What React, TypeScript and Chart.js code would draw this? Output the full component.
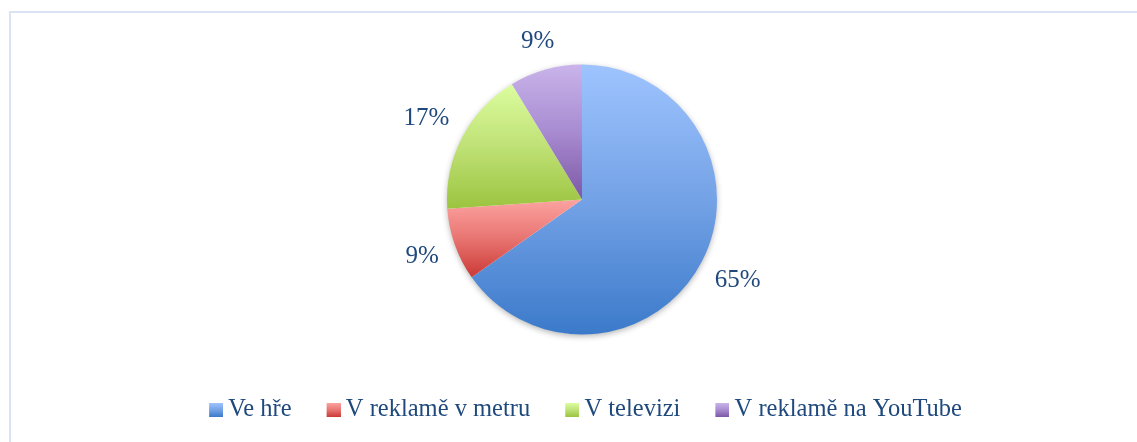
import React, { useEffect, useRef } from 'react';
import { Chart, registerables } from 'chart.js';

Chart.register(...registerables);

// ---- data ----
const categories = ['Ve hře', 'V reklamě v metru', 'V televizi', 'V reklamě na YouTube'];
const responses = [15, 2, 4, 2];

// ---- styles ----
const sliceStops: string[][] = [
  ['#9ec4fe', '#74a2e6', '#3b7aca'],
  ['#fca3a0', '#e87572', '#cb3935'],
  ['#dcfd9e', '#bfe176', '#9cc43f'],
  ['#c9b4ea', '#a88bd1', '#7c58a5'],
];
const FONT = "'Liberation Serif', 'Times New Roman', serif";
const TEXT_COLOR = '#1f497d';
const PIE_RADIUS = 135;
const PIE_CENTER_Y = 199.5;
const LABEL_FONT_SIZE = 25;
const LABEL_GAP = 16;
const LEGEND_FONT_SIZE = 24.5;
const LEGEND_PAD = 28;
const LEGEND_BOX = 14;
const LEGEND_TEXT_Y = 410;
const CANVAS_H = 442;

const legendTop = LEGEND_TEXT_Y - LEGEND_FONT_SIZE / 2 - LEGEND_PAD;
const legendHeight = LEGEND_FONT_SIZE + LEGEND_PAD + 10;
const padBottom = CANVAS_H - (legendTop + legendHeight);
const padTop = 2 * PIE_CENTER_Y - legendTop;

function makeGradient(ctx: CanvasRenderingContext2D, top: number, bottom: number, stops: string[]) {
  const g = ctx.createLinearGradient(0, top, 0, bottom);
  stops.forEach((c, k) => g.addColorStop(k / (stops.length - 1), c));
  return g;
}

function inSweep(t: number, a0: number, a1: number) {
  for (let k = -2; k <= 2; k++) {
    const a = t + k * 2 * Math.PI;
    if (a >= a0 - 1e-6 && a <= a1 + 1e-6) return true;
  }
  return false;
}

function sliceFill(c: any) {
  const chart = c.chart;
  const i = c.dataIndex;
  const stops = sliceStops[(typeof i === 'number' ? i : 0) % sliceStops.length];
  const area = chart.chartArea;
  if (!area || typeof i !== 'number' || !chart.ctx) return stops[1];
  const values = chart.data.datasets[0].data as number[];
  const total = values.reduce((s, v) => s + v, 0);
  let a0 = -Math.PI / 2;
  for (let k = 0; k < i; k++) a0 += (values[k] / total) * 2 * Math.PI;
  const a1 = a0 + (values[i] / total) * 2 * Math.PI;
  const cy = (area.top + area.bottom) / 2;
  const r = PIE_RADIUS;
  const ys = [cy, cy + r * Math.sin(a0), cy + r * Math.sin(a1)];
  if (inSweep(-Math.PI / 2, a0, a1)) ys.push(cy - r);
  if (inSweep(Math.PI / 2, a0, a1)) ys.push(cy + r);
  return makeGradient(chart.ctx, Math.min(...ys), Math.max(...ys), stops);
}

const shadowPlugin = {
  id: 'pieShadow',
  beforeDatasetsDraw(chart: any) {
    const arc = chart.getDatasetMeta(0).data[0];
    if (!arc) return;
    const { x, y, outerRadius } = arc.getProps(['x', 'y', 'outerRadius'], true);
    const ctx = chart.ctx as CanvasRenderingContext2D;
    ctx.save();
    ctx.shadowColor = 'rgba(0,0,0,0.32)';
    ctx.shadowBlur = 6;
    ctx.shadowOffsetY = 2;
    ctx.fillStyle = '#ffffff';
    ctx.beginPath();
    ctx.arc(x, y, outerRadius - 0.5, 0, 2 * Math.PI);
    ctx.fill();
    ctx.restore();
  },
};

const percentLabelPlugin = {
  id: 'percentLabels',
  afterDatasetsDraw(chart: any) {
    const meta = chart.getDatasetMeta(0);
    const values = chart.data.datasets[0].data as number[];
    const total = values.reduce((s, v) => s + v, 0);
    const ctx = chart.ctx as CanvasRenderingContext2D;
    ctx.save();
    ctx.font = `${LABEL_FONT_SIZE}px ${FONT}`;
    ctx.fillStyle = TEXT_COLOR;
    ctx.textAlign = 'center';
    ctx.textBaseline = 'middle';
    meta.data.forEach((arc: any, i: number) => {
      const { x, y, startAngle, endAngle, outerRadius } = arc.getProps(
        ['x', 'y', 'startAngle', 'endAngle', 'outerRadius'],
        true
      );
      const mid = (startAngle + endAngle) / 2;
      const text = Math.round((values[i] / total) * 100) + '%';
      const w = ctx.measureText(text).width;
      const h = LABEL_FONT_SIZE * 0.7;
      const dx = Math.cos(mid);
      const dy = Math.sin(mid);
      const t = outerRadius + LABEL_GAP + (Math.abs(dx) * w) / 2 + (Math.abs(dy) * h) / 2;
      ctx.fillText(text, x + dx * t, y + dy * t);
    });
    ctx.restore();
  },
};

export default function App() {
  const canvasRef = useRef<HTMLCanvasElement>(null);

  useEffect(() => {
    if (!canvasRef.current) return;
    // swatch image: square sits in the right half so the gap to the text is small
    const swatches = sliceStops.map((stops) => {
      const c = document.createElement('canvas');
      c.width = LEGEND_BOX * 2;
      c.height = LEGEND_BOX;
      const x = c.getContext('2d') as CanvasRenderingContext2D;
      x.fillStyle = makeGradient(x, 0, LEGEND_BOX, stops);
      x.fillRect(LEGEND_BOX, 0, LEGEND_BOX, LEGEND_BOX);
      return c;
    });

    const chart = new Chart(canvasRef.current, {
      type: 'pie',
      data: {
        labels: categories,
        datasets: [
          {
            data: responses,
            backgroundColor: sliceFill as any,
            borderWidth: 0,
            radius: PIE_RADIUS,
          } as any,
        ],
      },
      options: {
        animation: false,
        responsive: true,
        maintainAspectRatio: false,
        events: [],
        layout: { padding: { top: padTop, bottom: padBottom, left: 0, right: 0 } },
        plugins: {
          tooltip: { enabled: false },
          legend: {
            position: 'bottom',
            labels: {
              font: { family: FONT, size: LEGEND_FONT_SIZE },
              color: TEXT_COLOR,
              usePointStyle: true,
              boxWidth: LEGEND_BOX,
              boxHeight: LEGEND_BOX,
              padding: LEGEND_PAD,
              generateLabels: (ch: any) => {
                const base = (Chart as any).overrides.doughnut.plugins.legend.labels.generateLabels(ch);
                return base.map((item: any, k: number) => ({
                  ...item,
                  pointStyle: swatches[k % swatches.length],
                  fillStyle: sliceStops[k % sliceStops.length][1],
                  strokeStyle: 'rgba(0,0,0,0)',
                  lineWidth: 0,
                }));
              },
            },
          },
        },
      } as any,
      plugins: [shadowPlugin, percentLabelPlugin],
    });
    return () => chart.destroy();
  }, []);

  return (
    <div
      style={{
        position: 'fixed',
        left: 0,
        top: 0,
        width: 1137,
        height: 442,
        overflow: 'hidden',
        background: '#ffffff',
      }}
    >
      <div
        style={{
          position: 'absolute',
          left: 9,
          top: 11,
          width: 1200,
          height: 500,
          border: '2px solid #dae3f3',
          boxSizing: 'border-box',
        }}
      />
      <div style={{ position: 'absolute', left: 0, top: 0, width: 1164, height: CANVAS_H }}>
        <canvas ref={canvasRef} />
      </div>
    </div>
  );
}
